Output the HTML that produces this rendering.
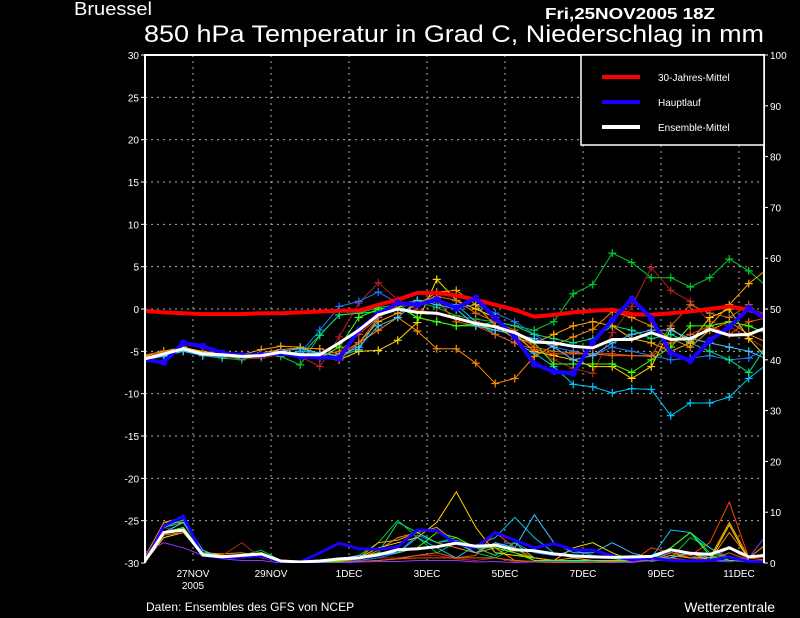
<!DOCTYPE html>
<html><head><meta charset="utf-8"><style>
html,body{margin:0;padding:0;background:#000;width:800px;height:618px;overflow:hidden}
svg{display:block;font-family:"Liberation Sans",sans-serif}
</style></head><body>
<svg id="chart" width="800" height="618" viewBox="0 0 800 618">
<rect x="0" y="0" width="800" height="618" fill="#000"/>
<text x="74" y="15" fill="#fff" font-size="18" textLength="78" lengthAdjust="spacingAndGlyphs">Bruessel</text>
<text x="545" y="19" fill="#fff" font-size="16" font-weight="bold" textLength="170" lengthAdjust="spacingAndGlyphs">Fri,25NOV2005 18Z</text>
<text x="144" y="42" fill="#fff" font-size="24" textLength="620" lengthAdjust="spacingAndGlyphs">850 hPa Temperatur in Grad C, Niederschlag in mm</text>
<g id="grid"></g>
<g id="precip"></g>
<g id="temps"></g>
<g id="axes"></g>
<g>
<rect x="581" y="55" width="183" height="90" fill="#000" stroke="#fff" stroke-width="1.5"/>
<line x1="602" y1="77" x2="640" y2="77" stroke="#f00" stroke-width="4"/>
<text x="658" y="81" fill="#fff" font-size="10">30-Jahres-Mittel</text>
<line x1="602" y1="102" x2="640" y2="102" stroke="#1a00ff" stroke-width="4"/>
<text x="658" y="106" fill="#fff" font-size="10">Hauptlauf</text>
<line x1="602" y1="127" x2="640" y2="127" stroke="#fff" stroke-width="4"/>
<text x="658" y="131" fill="#fff" font-size="10">Ensemble-Mittel</text>
</g>
<text x="146" y="611" fill="#fff" font-size="12">Daten: Ensembles des GFS von NCEP</text>
<text x="775" y="612" fill="#fff" font-size="14" text-anchor="end">Wetterzentrale</text>
</svg>
<script>
const dateLabels=["27NOV","29NOV","1DEC","3DEC","5DEC","7DEC","9DEC","11DEC"];
const dateHours=[30,78,126,174,222,270,318,366];
const tempTicks=[30,25,20,15,10,5,0,-5,-10,-15,-20,-25,-30];
const precipTicks=[100,90,80,70,60,50,40,30,20,10,0];
const climMean=[-0.2,-0.4,-0.5,-0.6,-0.6,-0.6,-0.5,-0.5,-0.4,-0.3,-0.2,-0.2,0.5,1.1,1.9,1.9,1.6,1.1,0.5,-0.1,-0.9,-0.7,-0.4,-0.2,-0.1,-0.6,-0.7,-0.5,-0.3,0.0,0.3,-0.1,-0.9];
const mainRun=[-6.0,-6.3,-4.0,-4.4,-5.2,-5.5,-5.4,-5.2,-5.6,-5.7,-5.8,-2.5,-0.6,0.7,0.5,1.1,0.1,1.3,-1.1,-3.3,-6.5,-7.4,-7.6,-3.9,-1.3,1.2,-1.1,-5.2,-6.1,-3.7,-2.1,0.1,-1.3];
const ensMean=[-5.9,-5.3,-4.7,-5.3,-5.4,-5.6,-5.5,-5.1,-5.4,-5.4,-4.0,-2.5,-0.7,0.0,-0.4,-0.5,-1.1,-1.7,-2.1,-2.8,-3.9,-4.0,-4.4,-4.6,-3.6,-3.6,-2.8,-3.6,-3.5,-2.4,-3.1,-3.0,-2.1];
const mainPrecip=[0,7.3,9.2,1.5,1.0,1.2,1.4,0.3,0.2,2.0,3.9,2.8,2.7,3.2,6.5,6.4,3.8,3.0,6.0,4.5,3.0,3.8,2.6,2.5,1.4,0.6,1.0,0.5,0.4,0.5,1.2,0.3,0.2];
const meanPrecip=[0.2,6.0,6.5,1.6,1.2,1.5,1.8,0.4,0.2,0.4,0.8,1.0,1.6,2.6,2.8,3.2,3.9,3.3,3.5,2.6,2.4,1.8,1.4,1.2,1.1,1.2,1.3,2.6,1.9,1.7,3.0,1.2,1.5];
const memberColors=["#00cc33","#00c8ff","#ff8c00","#b22222","#1e78ff","#ffd700","#ff4500","#00e080","#ffa500","#40ff00","#d2691e","#40c0ff","#9b30ff"];
const memberTemps=[
[-5.8,-5.2,-4.8,-5.5,-5.8,-6.0,-5.3,-5.6,-6.6,-3.1,-0.7,-0.5,0.2,0.5,0.8,0.2,-0.8,-1.2,-1.5,-2.0,-2.5,-1.5,1.8,2.9,6.6,5.5,3.7,3.7,2.6,3.7,5.9,4.5,2.5],
[-6.0,-5.5,-4.9,-5.4,-5.6,-5.7,-5.6,-5.4,-5.0,-5.2,-5.6,-4.8,-1.0,0.5,1.0,0.8,0.5,-1.5,-3.0,-4.0,-5.2,-6.8,-8.9,-9.2,-9.9,-9.4,-9.5,-12.6,-11.1,-11.1,-10.4,-8.2,-6.4],
[-5.5,-5.0,-4.6,-5.0,-5.3,-5.5,-5.2,-4.8,-4.6,-4.7,-5.3,-4.0,-2.5,-1.0,-2.6,-4.7,-4.7,-6.4,-8.8,-8.2,-5.6,-4.3,-3.3,-2.4,-0.3,-1.0,-2.0,-3.5,-4.5,-2.5,-1.5,-3.0,-4.0],
[-5.6,-5.4,-4.9,-5.3,-5.5,-5.9,-5.8,-5.4,-5.6,-6.8,-3.3,0.7,3.1,1.1,-0.1,-0.5,-1.0,-1.5,-2.0,-3.0,-4.5,-6.0,-7.0,-7.6,-2.8,0.3,4.9,2.2,0.9,-1.5,-2.0,-3.5,-4.8],
[-6.1,-5.5,-5.0,-5.5,-5.7,-5.6,-5.5,-5.3,-5.2,-2.5,0.3,0.9,2.0,0.7,0.9,1.3,0.1,0.5,-0.5,-1.5,-3.0,-4.5,-5.0,-5.5,-4.5,-5.0,-5.5,-6.0,-5.8,-5.5,-6.0,-5.8,-4.5],
[-5.5,-5.0,-4.5,-5.1,-5.3,-5.6,-5.2,-4.9,-5.4,-5.6,-6.0,-5.0,-4.9,-3.7,-1.6,3.5,1.0,0.0,-1.0,-3.0,-5.0,-5.5,-6.0,-6.8,-6.8,-8.2,-6.8,-2.3,-3.9,-1.0,0.0,-3.5,-6.0],
[-5.7,-5.2,-4.8,-5.2,-5.6,-5.8,-5.4,-5.0,-5.3,-5.5,-5.0,-3.0,-1.0,0.3,0.5,1.0,-1.5,-2.0,-3.0,-4.0,-4.8,-5.3,-5.3,-5.3,-5.3,-5.5,-5.6,-4.0,-3.0,-2.0,-3.0,-1.5,-1.0],
[-5.8,-5.3,-4.9,-5.4,-5.5,-5.8,-5.6,-5.2,-5.5,-3.1,-0.7,-0.5,-0.3,0.6,-1.0,-1.5,-2.0,-2.0,-1.5,-2.0,-3.0,-3.5,-4.0,-3.5,-2.0,-2.5,-3.5,-3.0,-4.0,-5.0,-6.0,-7.5,-4.0],
[-5.6,-5.0,-4.7,-5.3,-5.4,-5.4,-4.8,-4.4,-4.5,-5.3,-6.0,-4.0,-1.5,-0.5,0.5,2.0,2.2,0.5,-2.0,-3.5,-4.0,-3.0,-2.0,-1.5,-2.0,-3.5,-4.0,-5.0,-4.0,-2.0,0.5,3.0,4.8],
[-5.9,-5.4,-4.8,-5.3,-5.5,-5.7,-5.5,-5.3,-5.6,-5.8,-4.5,-1.0,0.0,0.3,-1.0,-1.5,-2.0,-1.8,-2.5,-3.0,-4.0,-6.5,-6.5,-6.5,-6.5,-7.5,-6.0,-4.5,-2.0,-2.0,-1.5,-2.0,-3.0],
[-5.4,-5.1,-4.6,-5.2,-5.6,-5.7,-5.3,-5.0,-5.4,-5.8,-6.0,-4.0,-1.0,0.5,0.8,1.5,1.0,-0.5,-1.5,-2.5,-4.5,-5.0,-5.2,-5.3,-5.5,-5.5,-5.5,-2.0,0.5,-0.5,-1.0,0.5,-1.5],
[-6.0,-5.6,-5.0,-5.5,-5.6,-5.6,-5.5,-5.0,-4.7,-5.2,-5.5,-4.5,-2.0,-1.0,1.0,0.5,0.0,-2.0,-2.5,-3.0,-3.5,-4.5,-6.0,-5.5,-4.0,-3.0,-2.5,-2.5,-3.5,-4.0,-4.5,-5.0,-6.0]
];
const memberPrecip=[
[0,6,8,2,1,1.5,2.5,0.5,0,0,0.3,1.5,4,8.4,5,2,4,2,1,3,0.5,0.2,0,0,0.5,1,0.3,1,5,3,0.5,0.2,0],
[0,7,8.5,2.5,1,1.2,1.5,0.3,0,0,0.5,1,1.5,2,5,3,1,3.5,5,9,5,2,1,1.5,1,0.5,1,6.5,6,3,1,0.3,0.5],
[1,8,8,2,1.8,2,1.3,0.2,0,0.1,0.3,0.8,2.5,5,6,4,3,2,3,0.5,0.3,0,0,0,0.2,0.5,0.5,2,1,0.5,6,1,2],
[0,7,6,1.5,1.5,4,1,0.3,0,0,0.2,0.5,1,1,1.5,1.5,0.8,0.5,1,0.3,0.2,0,0.2,0.3,0.1,0.3,0.5,1.5,1,0.5,3,0.5,0.3],
[0,7.5,9,2,1,1,1.6,0.1,0,0,0.2,0.5,1,2,5.5,4,4.5,3,3.5,4,2,1.5,2.5,1.5,1,0.5,1,2,1.5,0.5,0.5,0.3,0.1],
[0,5,6,2,1.5,1.5,1.5,0.2,0,0,0.4,1,3,4,5,8,14,7,2,1.5,1,0.5,3,4,2,0.5,0.5,1,2,0.5,7.5,0.5,0],
[0,6,7,1.5,1.2,1.2,1.5,0.2,0,0,0.1,0.3,0.5,0.8,1,1,1,1.5,6,3,1,0.5,0.5,0.5,0.5,0.3,3,2,1.5,4,12,1,0.5],
[0,7,8,2,1.2,1.5,2,0.3,0,0,0.5,1,2,8,6,4,5,3,1.5,4,1,0.5,0.3,0.5,0.2,0.5,1,3,6,2,1,0.5,0],
[0,8,9,1.8,1,1.2,1.4,0.3,0,0,0.3,1,4,4.5,6,7,4,2,4,2,1,0.5,1,0.5,0.5,0.5,0.5,1.5,1,1,8,1,4],
[0,6,7,2,1,1.5,2,0.3,0,0,0.4,1,2,2,3,6,5,3,3,2,0.5,0.5,0.5,0.5,0.3,0.5,0.5,3,6,1.5,0.5,0.5,0.2],
[0,5.5,6,1.5,1.2,1.3,1.2,0.3,0,0,0.1,0.3,0.5,0.8,1.5,2,1,1,1,0.5,0.3,0.1,0.1,0.1,0.1,0.2,0.5,1,0.5,0.5,2,0.5,0.5],
[0,6,8,2.5,1,1,1.3,0.3,0,0,0.8,1.5,1.5,2,3,3,4,2,4,3,9.5,4,2,2,4,2,1,1,2,1,1,0.5,0.3],
[2,4,3,1.5,0.8,0.5,0.5,0,0,0,0,0.2,0.3,0.3,0.5,0.5,0.5,0.2,0.3,0.1,0.2,0.3,0.2,0.2,0.2,0.1,0.5,0.6,0.3,0.5,0.2,1,6]
];
const stepHours=12;

const NS="http://www.w3.org/2000/svg";
const L=145,R=764,T=55,B=563,H0=144.25,PXH=1.625;
function xH(h){return H0+h*PXH;}
function xI(i){return xH(i*stepHours);}
function yT(t){return T+(30-t)*(B-T)/60;}
function yP(p){return B-p*(B-T)/100;}
function mk(tag,attrs,parent){const e=document.createElementNS(NS,tag);for(const k in attrs)e.setAttribute(k,attrs[k]);parent.appendChild(e);return e;}
const grid=document.getElementById('grid'),axes=document.getElementById('axes'),temps=document.getElementById('temps'),precip=document.getElementById('precip');
const svgEl=document.getElementById('chart');
// clip
const defs=mk('defs',{},svgEl);const cp=mk('clipPath',{id:'pc'},defs);mk('rect',{x:L,y:T,width:R-L,height:B-T},cp);
temps.setAttribute('clip-path','url(#pc)');precip.setAttribute('clip-path','url(#pc)');
tempTicks.forEach(t=>{
  const y=yT(t);
  if(t<30&&t>-30){const g=mk('line',{x1:L,x2:R,y1:y,y2:y,stroke:'#aaa','stroke-width':1,'stroke-dasharray':'2,4'},grid);
  
  }
  mk('line',{x1:L-4,x2:L,y1:y,y2:y,stroke:'#fff'},axes);
  const tx=mk('text',{x:L-6,y:y+4,fill:'#fff','font-size':10,'text-anchor':'end'},axes);tx.textContent=t;
  
  
});
precipTicks.forEach(p=>{
  const y=yP(p);
  mk('line',{x1:R,x2:R+4,y1:y,y2:y,stroke:'#fff'},axes);
  const tx=mk('text',{x:R+6,y:y+4,fill:'#fff','font-size':10},axes);tx.textContent=p;
  
  
});
dateLabels.forEach((d,i)=>{
  const x=xH(dateHours[i]);
  const g=mk('line',{x1:x,x2:x,y1:T,y2:B,stroke:'#aaa','stroke-width':1,'stroke-dasharray':'2,4'},grid);
  
  
  const tx=mk('text',{x:x,y:577,fill:'#fff','font-size':10,'text-anchor':'middle'},axes);tx.textContent=d;
  
  
});
const yr=mk('text',{x:xH(dateHours[0]),y:589,fill:'#fff','font-size':10,'text-anchor':'middle'},axes);yr.textContent='2005';


mk('polyline',{points:`${L},${B} ${L},${T} ${R},${T} ${R},${B}`,fill:'none',stroke:'#fff','stroke-width':2},axes);
function pts(arr,yf){return arr.map((v,i)=>xI(i).toFixed(1)+','+yf(v).toFixed(1)).join(' ');}
// precip
memberPrecip.forEach((arr,m)=>{
  const pl=mk('polyline',{points:pts(arr,yP),fill:'none',stroke:memberColors[m],'stroke-width':1},precip);
  
  
});
const mp=mk('polyline',{points:pts(mainPrecip,yP),fill:'none',stroke:'#1a00ff','stroke-width':3},precip);


const ep=mk('polyline',{points:pts(meanPrecip,yP),fill:'none',stroke:'#fff','stroke-width':3},precip);


// temps
memberTemps.forEach((arr,m)=>{
  const g=mk('g',{},temps);
  
  
  mk('polyline',{points:pts(arr,yT),fill:'none',stroke:memberColors[m],'stroke-width':1},g);
  arr.forEach((v,i)=>{const x=xI(i),y=yT(v);
    mk('path',{d:`M${x-4},${y}H${x+4}M${x},${y-4}V${y+4}`,stroke:memberColors[m],'stroke-width':1.2},g);});
});
const cl=mk('polyline',{points:pts(climMean,yT),fill:'none',stroke:'#f00','stroke-width':4},temps);


const mr=mk('g',{},temps);


mk('polyline',{points:pts(mainRun,yT),fill:'none',stroke:'#1a00ff','stroke-width':4},mr);
mainRun.forEach((v,i)=>mk('circle',{cx:xI(i),cy:yT(v),r:3.5,fill:'#1a00ff'},mr));
const em=mk('polyline',{points:pts(ensMean,yT),fill:'none',stroke:'#fff','stroke-width':3},temps);


</script>
</body></html>
